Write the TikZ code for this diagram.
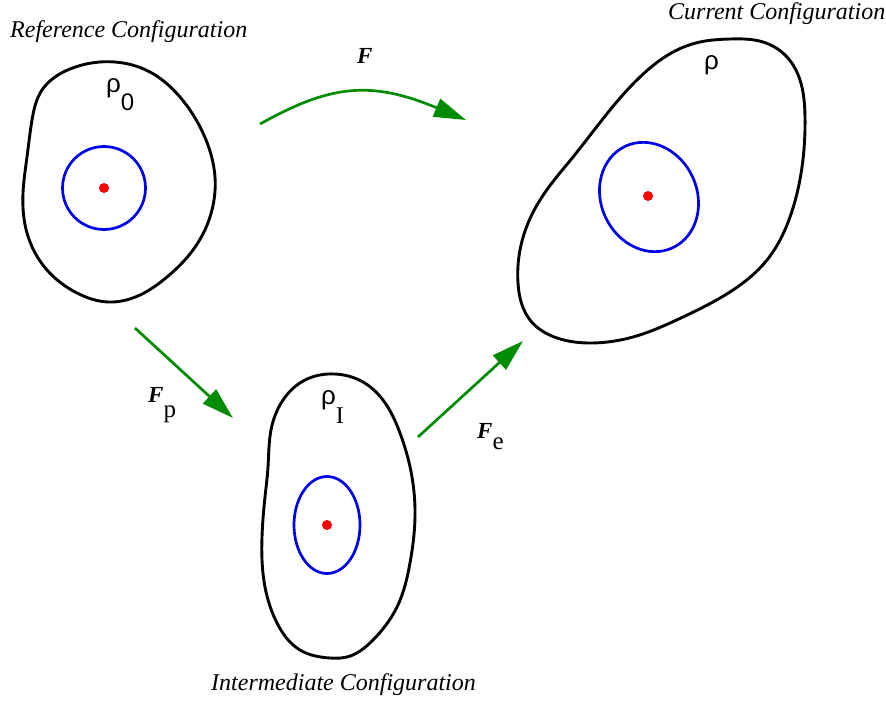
\documentclass[tikz,border=0pt]{standalone}
\usepackage{fontspec}
\setmainfont{Liberation Serif}
\newfontfamily\sansf{Liberation Sans}
\usetikzlibrary{arrows.meta,hobby}
\definecolor{arrowgreen}{RGB}{0,140,0}
\definecolor{circblue}{RGB}{0,0,235}
\definecolor{dotred}{RGB}{255,0,0}
\tikzset{
  blob/.style={draw=black, line width=2.9pt, use Hobby shortcut, closed=true},
  inner/.style={draw=circblue, line width=2.7pt},
  dot/.style={fill=dotred, draw=none},
  maparrow/.style={draw=arrowgreen, line width=2.7pt, -{Triangle[length=32pt,width=19pt]}},
  conf/.style={font=\fontsize{24}{28}\selectfont\itshape, anchor=base west, inner sep=0pt},
  rholab/.style={font=\fontsize{26}{30}\selectfont\sansf, anchor=base west, inner sep=0pt},
  flab/.style={font=\fontsize{23}{27}\selectfont, anchor=base west, inner sep=0pt}
}
\begin{document}
\begin{tikzpicture}[x=1pt,y=-1pt]
\useasboundingbox (0,0) rectangle (886,702);
\clip (0,0) rectangle (886,702);

% Reference configuration
\draw[blob] (115,62) .. (150,72) .. (180,97) .. (203,133) .. (215,177) .. (210,217) .. (193,250) .. (167,277) .. (140,295) .. (108,302) .. (77,293) .. (47,270) .. (27,233) .. (23,193) .. (27,157) .. (32,120) .. (42,90) .. (70,69);
\draw[inner] (104,188) circle (41.5);
\fill[dot] (104,188) circle (5);

% Current configuration
\draw[blob] (730,39) .. (763,42) .. (787,57) .. (800,80) .. (805,117) .. (802,167) .. (790,217) .. (767,260) .. (733,290) .. (683,317) .. (633,337) .. (590,343) .. (557,338) .. (530,320) .. (518,283) .. (520,250) .. (540,200) .. (573,157) .. (610,110) .. (640,77) .. (677,50) .. (700,42);
\draw[inner, rotate around={25:(649,197)}] (649,197) ellipse (48 and 56);
\fill[dot] (648,196) circle (5);

% Intermediate configuration
\draw[blob] (335,374) .. (363,382) .. (383,400) .. (400,433) .. (412,477) .. (415,517) .. (410,563) .. (397,607) .. (373,640) .. (347,657) .. (330,658) .. (300,650) .. (277,623) .. (265,587) .. (262,537) .. (265,497) .. (268,467) .. (271,430) .. (283,400) .. (305,380);
\draw[inner] (327,525) ellipse (33 and 48.5);
\fill[dot] (327,525) circle (5);

% Labels
\node[conf] (lref) at (10,37) {Reference Configuration};
\node[conf] (lcur) at (668,19) {Current Configuration};
\node[conf] (lint) at (211,690) {Intermediate Configuration};

\node[rholab] (r0) at (106,92) {ρ\raisebox{-18pt}{\fontsize{24}{28}\selectfont 0}};
\node[rholab] (rc) at (704,69) {ρ};
\node[rholab] (ri) at (321,404) {ρ\raisebox{-19pt}{\fontsize{24}{28}\selectfont\rmfamily I}};

\node[flab] (lF) at (357,63) {\bfseries\itshape F};
\node[flab] (lFp) at (148,402) {{\bfseries\itshape F}\raisebox{-15pt}{\fontsize{25}{29}\selectfont p}};
\node[flab] (lFe) at (477,438) {{\bfseries\itshape F}\raisebox{-11pt}{\fontsize{25}{29}\selectfont e}};

% Arrow end points
\coordinate (fs) at (260,124);
\coordinate (fe) at (466,120);
\coordinate (ps) at (135,328);
\coordinate (pe) at (233,418);
\coordinate (es) at (418,437);
\coordinate (ee) at (523,341);

\draw[maparrow] (fs) .. controls (330,85) and (370,80) .. (fe);
\draw[maparrow] (ps) -- (pe);
\draw[maparrow] (es) -- (ee);
\end{tikzpicture}
\end{document}
